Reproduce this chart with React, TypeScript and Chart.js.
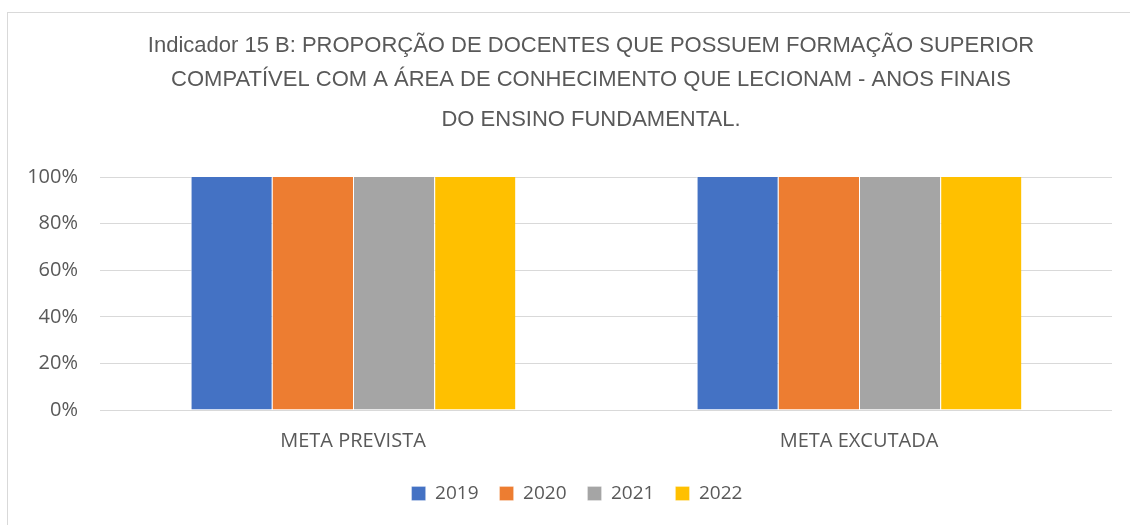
import React, { useEffect, useRef } from "react";
import { Chart, registerables } from "chart.js";

Chart.register(...registerables);

const categories = ["META PREVISTA", "META EXCUTADA"];
const seriesLabels = ["2019", "2020", "2021", "2022"];
const values2019 = [1, 1];
const values2020 = [1, 1];
const values2021 = [1, 1];
const values2022 = [1, 1];
const seriesColors = ["#4472C4", "#ED7D31", "#A5A5A5", "#FFC000"];
const titleLines = [
  "Indicador 15 B: PROPORÇÃO DE DOCENTES QUE POSSUEM FORMAÇÃO SUPERIOR",
  "COMPATÍVEL COM A ÁREA DE CONHECIMENTO QUE LECIONAM - ANOS FINAIS",
  "DO ENSINO FUNDAMENTAL.",
];

const TEXT = "#595959";

const titlePlugin = {
  id: "customTitle",
  afterLayout(chart: any) {
    // centre the legend like the reference (slightly left of the plot centre)
    if (chart.legend) {
      chart.legend.left = 42;
      chart.legend.right = 1112;
    }
  },
  afterDraw(chart: any) {
    const ctx = chart.ctx;
    ctx.save();
    ctx.fillStyle = TEXT;
    ctx.textAlign = "center";
    ctx.textBaseline = "middle";
    ctx.font = '22px "Liberation Sans", sans-serif';
    const ys = [46, 80, 120];
    titleLines.forEach((t, i) => ctx.fillText(t, 591, ys[i]));
    ctx.restore();
  },
};

export default function App() {
  const ref = useRef<HTMLCanvasElement>(null);
  useEffect(() => {
    if (!ref.current) return;
    const all = [values2019, values2020, values2021, values2022];
    const chart = new Chart(ref.current, {
      type: "bar",
      data: {
        labels: categories,
        datasets: seriesLabels.map((l, i) => ({
          label: l,
          data: all[i],
          backgroundColor: seriesColors[i],
          borderColor: "#ffffff",
          borderWidth: { left: 1, right: 0, top: 0, bottom: 0 },
          borderSkipped: false,
          categoryPercentage: 0.642,
          barPercentage: 1,
        })),
      },
      options: {
        responsive: false,
        animation: false,
        layout: { padding: { top: 177, left: 0, right: 18, bottom: 12 } },
        plugins: {
          title: { display: false },
          tooltip: { enabled: false },
          legend: {
            position: "bottom",
            labels: {
              color: TEXT,
              font: { family: '"Open Sans", sans-serif', size: 19 },
              boxWidth: 14,
              boxHeight: 14,
              padding: 21,
            },
          },
        },
        scales: {
          x: {
            grid: { display: false, drawTicks: false },
            border: { display: false },
            ticks: {
              color: TEXT,
              font: { family: '"Open Sans", sans-serif', size: 20 },
              padding: 19,
            },
            afterFit(scale: any) {
              scale.height = 53;
            },
          },
          y: {
            min: 0,
            max: 1,
            grid: { color: "#d9d9d9", lineWidth: 1, drawTicks: false },
            border: { display: false },
            ticks: {
              stepSize: 0.2,
              color: TEXT,
              font: { family: '"Open Sans", sans-serif', size: 20 },
              padding: 22,
              callback: (v: any) => Math.round(Number(v) * 100) + "%",
            },
            afterFit(scale: any) {
              scale.width = 100;
            },
          },
        },
      },
      plugins: [titlePlugin],
    });
    return () => chart.destroy();
  }, []);
  return (
    <div
      style={{
        position: "fixed",
        left: 0,
        top: 0,
        width: 1130,
        height: 525,
        background: "#fff",
        overflow: "hidden",
      }}
    >
      <div
        style={{
          position: "absolute",
          left: 7,
          top: 12,
          width: 1300,
          height: 700,
          border: "1px solid #d9d9d9",
        }}
      />
      <canvas
        ref={ref}
        width={1130}
        height={525}
        style={{ position: "absolute", left: 0, top: 0 }}
      />
    </div>
  );
}
